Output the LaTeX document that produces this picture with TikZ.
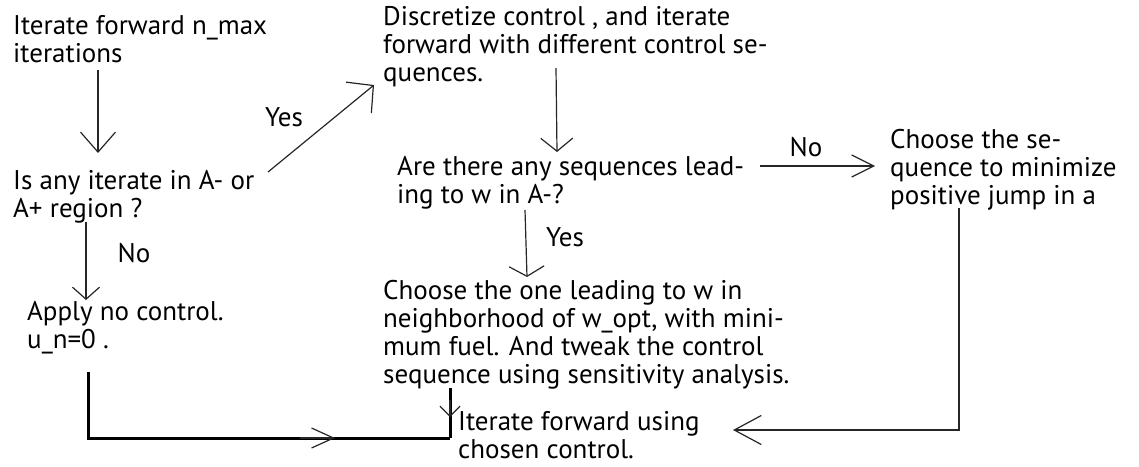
\documentclass[tikz,border=0pt]{standalone}
\usepackage{fontspec}
\setmainfont{PT Sans}
\usetikzlibrary{arrows.meta}
\tikzset{
  txt/.style={anchor=base west, inner sep=0pt, align=left, font=\fontsize{27}{28}\selectfont},
  lbl/.style={anchor=center, inner sep=0pt, font=\fontsize{27}{28}\selectfont},
  conn/.style={draw=black!85, line width=1.2pt},
  thickconn/.style={draw=black, line width=3pt},
  vh/.style 2 args={-{Straight Barb[length=#1pt,width=#2pt,line width=1.2pt]}},
}
\begin{document}
\begin{tikzpicture}[x=1pt,y=-1pt]
\useasboundingbox (0,0) rectangle (1139,466);
% text blocks (anchored at the baseline of their last line)
\node[txt] (t1) at (13,62) {Iterate forward n\_max\\iterations};
\node[txt] (t2) at (13,217) {Is any iterate in A- or\\A+ region ?};
\node[txt] (t3) at (383,81) {Discretize control , and iterate\\forward with different control se-\\quences.};
\node[txt] (t4) at (397,203) {Are there any sequences lead-\\ing to w in A-?};
\node[txt] (t5) at (890,204) {Choose the se-\\quence to minimize\\positive jump in a};
\node[txt] (t7) at (383,383) {Choose the one leading to w in\\neighborhood of w\_opt, with mini-\\mum fuel. And tweak the control\\sequence using sensitivity analysis.};
\node[txt] (t8) at (27,348) {Apply no control.\\u\_n=0 .};
\node[txt] (t6) at (458,458) {Iterate forward using\\chosen control.};
% labels
\node[lbl] (y1) at (284,117) {Yes};
\node[lbl] (n1) at (806,147) {No};
\node[lbl] (y2) at (565,237) {Yes};
\node[lbl] (n2) at (134,253) {No};
% connector end points
\coordinate (a1s) at (98,70);   \coordinate (a1e) at (98,153);
\coordinate (a2s) at (268,172); \coordinate (a2e) at (374,85);
\coordinate (a3s) at (556,68);  \coordinate (a3e) at (557,152);
\coordinate (a4s) at (525,210); \coordinate (a4e) at (527,277);
\coordinate (a5s) at (760,166); \coordinate (a5e) at (875,166);
\coordinate (a6s) at (86,222);  \coordinate (a6e) at (86,300);
\coordinate (a7s) at (959,208); \coordinate (a7c) at (959,430); \coordinate (a7e) at (733,430);
\coordinate (b1) at (88,372); \coordinate (b2) at (88,438); \coordinate (b3) at (450,438); \coordinate (b4) at (450,388);
\coordinate (m1) at (300,438); \coordinate (m2) at (335,438);
\coordinate (m3) at (450,400); \coordinate (m4) at (450,417);
% connectors
\draw[conn, vh={20}{35}] (a1s) -- (a1e);
\draw[conn, vh={19}{40}] (a2s) -- (a2e);
\draw[conn, vh={13}{32}] (a3s) -- (a3e);
\draw[conn, vh={10}{35}] (a4s) -- (a4e);
\draw[conn, vh={22}{22}] (a5s) -- (a5e);
\draw[conn, vh={12}{27}] (a6s) -- (a6e);
\draw[conn, vh={27}{29}] (a7s) -- (a7c) -- (a7e);
\draw[thickconn] (b1) -- (b2) -- (b3);
\draw[thickconn] (b4) -- (b3);
\draw[conn, vh={22}{20}] (m1) -- (m2);
\draw[conn, vh={10}{20}] (m3) -- (m4);
\end{tikzpicture}
\end{document}
